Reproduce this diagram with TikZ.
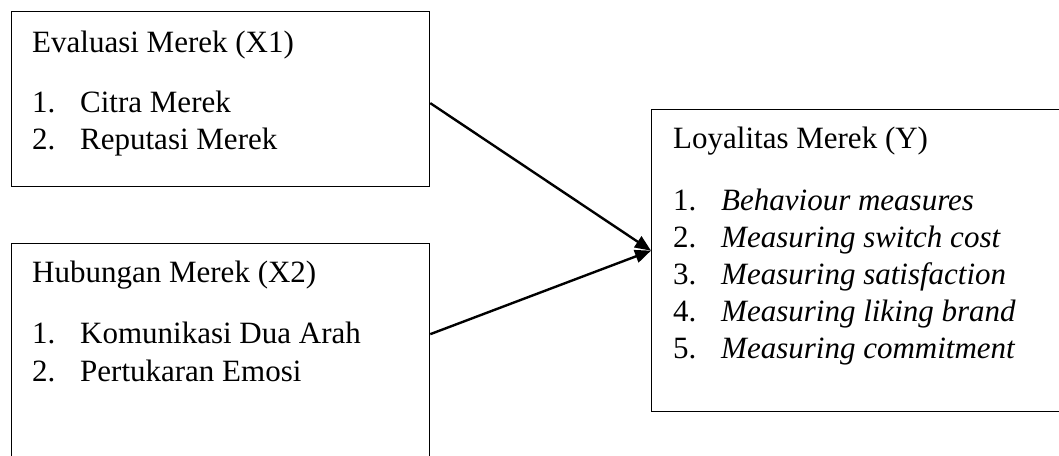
\documentclass[tikz,border=0pt]{standalone}
\usepackage{fontspec}
\setmainfont{Liberation Serif}
\usetikzlibrary{arrows.meta}

\tikzset{
  varbox/.style={draw, line width=1.3pt, inner sep=0pt, anchor=north west},
  line/.style={anchor=base west, inner sep=0pt, font=\fontsize{31}{37}\selectfont},
  conn/.style={line width=2.4pt, -{Triangle[length=16pt,width=13pt]}}
}
\newcommand{\num}[1]{\makebox[48pt][l]{#1}}

\begin{document}
\begin{tikzpicture}[x=1pt, y=-1pt]
  \useasboundingbox (0,0) rectangle (1059,455);
  \clip (0,0) rectangle (1059,455);

  \node[varbox, minimum width=418pt, minimum height=175pt] (eval) at (11,11) {};
  \node[varbox, minimum width=418pt, minimum height=235pt] (hub) at (11,243) {};
  \node[varbox, minimum width=430pt, minimum height=302pt] (loyal) at (651,109) {};

  \node[line] (evaltitle) at (32,52) {Evaluasi Merek (X1)};
  \node[line] (evalone) at (32,112) {\num{1.}Citra Merek};
  \node[line] (evaltwo) at (32,149) {\num{2.}Reputasi Merek};

  \node[line] (hubtitle) at (32,282) {Hubungan Merek (X2)};
  \node[line] (hubone) at (32,343) {\num{1.}Komunikasi Dua Arah};
  \node[line] (hubtwo) at (32,381) {\num{2.}Pertukaran Emosi};

  \node[line] (loyaltitle) at (673,148) {Loyalitas Merek (Y)};
  \node[line] (loyalone) at (673,210) {\num{1.}\textit{Behaviour measures}};
  \node[line] (loyaltwo) at (673,247) {\num{2.}\textit{Measuring switch cost}};
  \node[line] (loyalthree) at (673,284) {\num{3.}\textit{Measuring satisfaction}};
  \node[line] (loyalfour) at (673,321) {\num{4.}\textit{Measuring liking brand}};
  \node[line] (loyalfive) at (673,358) {\num{5.}\textit{Measuring commitment}};

  \draw[conn] ([yshift=-4pt]eval.east) -- ([yshift=10pt]loyal.west);
  \draw[conn] ([yshift=27pt]hub.east) -- ([yshift=10pt]loyal.west);

\end{tikzpicture}
\end{document}
